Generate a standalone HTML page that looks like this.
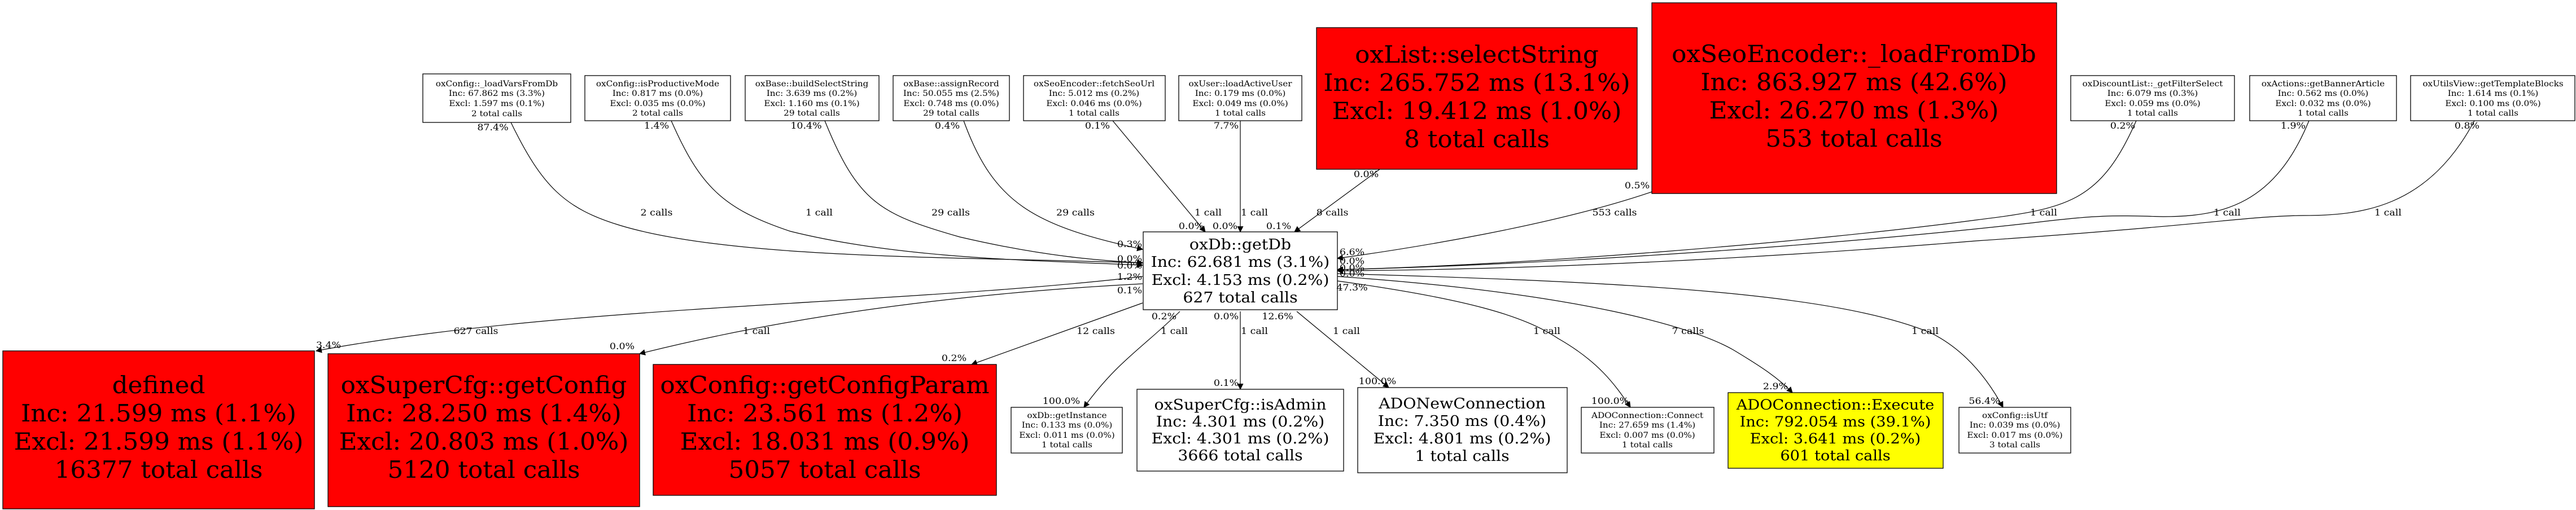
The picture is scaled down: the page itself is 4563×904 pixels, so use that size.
<!DOCTYPE html>
<html><head><meta charset="utf-8"><style>
html,body{margin:0;padding:0;background:#fff}
svg{display:block}
text{font-family:"DejaVu Serif","Liberation Serif",serif;fill:#000;transform-box:fill-box;transform-origin:center;transform:scaleX(1.09)}
.s{font-size:14px}
.m{font-size:26px}
.b{font-size:42px;transform:scaleX(1.04)}
.e{font-size:16px}
path{fill:none;stroke:#000;stroke-width:1.2}
rect{stroke:#000;stroke-width:1.3}
</style></head><body>
<svg width="4563" height="904" viewBox="0 0 4563 904" xmlns="http://www.w3.org/2000/svg">
<defs><marker id="a" viewBox="0 0 10 10" refX="9" refY="5" markerWidth="11" markerHeight="11" markerUnits="userSpaceOnUse" orient="auto"><path d="M0,0 L10,5 L0,10 z" style="fill:#000;stroke:none"/></marker></defs>

<path marker-end="url(#a)" d="M905,217 C960,330 1000,370 1100,400 C1300,460 1700,455 2024,466"/>
<path marker-end="url(#a)" d="M1189,214 C1240,330 1280,370 1400,410 C1600,460 1850,462 2024,470"/>
<path marker-end="url(#a)" d="M1461,214 C1520,360 1560,380 1700,420 C1850,455 1950,462 2024,466"/>
<path marker-end="url(#a)" d="M1707,214 C1760,360 1830,400 2024,442"/>
<path marker-end="url(#a)" d="M1971,214 L2135,411"/>
<path marker-end="url(#a)" d="M2197,214 L2197,411"/>
<path marker-end="url(#a)" d="M2444,300 L2293,411"/>
<path marker-end="url(#a)" d="M2926,340 C2750,400 2500,440 2369,458"/>
<path marker-end="url(#a)" d="M3784,214 C3720,360 3660,370 3500,390 C3200,430 2700,470 2369,478"/>
<path marker-end="url(#a)" d="M4090,214 C4030,360 3940,384 3832,384 C3750,382 3720,380 3600,395 C3200,440 2700,470 2369,478"/>
<path marker-end="url(#a)" d="M4383,214 C4300,370 4180,382 4080,382 C3980,383 3900,400 3500,427 C3100,460 2700,478 2369,480"/>

<path marker-end="url(#a)" d="M2024,490 C1600,540 1000,540 560,622"/>
<path marker-end="url(#a)" d="M2024,503 C1700,520 1400,560 1133,627"/>
<path marker-end="url(#a)" d="M2024,537 L1721,646"/>
<path marker-end="url(#a)" d="M2090,552 C2020,620 1980,640 1920,722"/>
<path marker-end="url(#a)" d="M2197,552 L2197,690"/>
<path marker-end="url(#a)" d="M2297,552 L2460,687"/>
<path marker-end="url(#a)" d="M2369,498 C2600,530 2700,560 2760,600 C2830,640 2860,680 2888,722"/>
<path marker-end="url(#a)" d="M2369,490 C2800,520 3000,580 3070,620 C3120,650 3150,670 3175,696"/>
<path marker-end="url(#a)" d="M2369,485 C2900,500 3250,520 3420,590 C3480,620 3520,670 3548,722"/>

<rect x="749" y="131" width="262" height="86" fill="#fff"/>
<text class="s" text-anchor="middle"><tspan x="880" y="153">oxConfig::_loadVarsFromDb</tspan><tspan x="880" y="170">Inc: 67.862 ms (3.3%)</tspan><tspan x="880" y="188">Excl: 1.597 ms (0.1%)</tspan><tspan x="880" y="206">2 total calls</tspan></text>
<rect x="1036" y="134" width="258" height="80" fill="#fff"/>
<text class="s" text-anchor="middle"><tspan x="1165" y="153">oxConfig::isProductiveMode</tspan><tspan x="1165" y="170">Inc: 0.817 ms (0.0%)</tspan><tspan x="1165" y="188">Excl: 0.035 ms (0.0%)</tspan><tspan x="1165" y="205">2 total calls</tspan></text>
<rect x="1320" y="134" width="237" height="80" fill="#fff"/>
<text class="s" text-anchor="middle"><tspan x="1438" y="153">oxBase::buildSelectString</tspan><tspan x="1438" y="170">Inc: 3.639 ms (0.2%)</tspan><tspan x="1438" y="188">Excl: 1.160 ms (0.1%)</tspan><tspan x="1438" y="205">29 total calls</tspan></text>
<rect x="1582" y="134" width="206" height="80" fill="#fff"/>
<text class="s" text-anchor="middle"><tspan x="1685" y="153">oxBase::assignRecord</tspan><tspan x="1685" y="170">Inc: 50.055 ms (2.5%)</tspan><tspan x="1685" y="188">Excl: 0.748 ms (0.0%)</tspan><tspan x="1685" y="205">29 total calls</tspan></text>
<rect x="1813" y="134" width="251" height="80" fill="#fff"/>
<text class="s" text-anchor="middle"><tspan x="1938" y="153">oxSeoEncoder::fetchSeoUrl</tspan><tspan x="1938" y="170">Inc: 5.012 ms (0.2%)</tspan><tspan x="1938" y="188">Excl: 0.046 ms (0.0%)</tspan><tspan x="1938" y="205">1 total calls</tspan></text>
<rect x="2088" y="134" width="218" height="80" fill="#fff"/>
<text class="s" text-anchor="middle"><tspan x="2197" y="153">oxUser::loadActiveUser</tspan><tspan x="2197" y="170">Inc: 0.179 ms (0.0%)</tspan><tspan x="2197" y="188">Excl: 0.049 ms (0.0%)</tspan><tspan x="2197" y="205">1 total calls</tspan></text>
<rect x="3668" y="134" width="290" height="80" fill="#fff"/>
<text class="s" text-anchor="middle"><tspan x="3813" y="153">oxDiscountList::_getFilterSelect</tspan><tspan x="3813" y="170">Inc: 6.079 ms (0.3%)</tspan><tspan x="3813" y="188">Excl: 0.059 ms (0.0%)</tspan><tspan x="3813" y="205">1 total calls</tspan></text>
<rect x="3985" y="134" width="260" height="80" fill="#fff"/>
<text class="s" text-anchor="middle"><tspan x="4115" y="153">oxActions::getBannerArticle</tspan><tspan x="4115" y="170">Inc: 0.562 ms (0.0%)</tspan><tspan x="4115" y="188">Excl: 0.032 ms (0.0%)</tspan><tspan x="4115" y="205">1 total calls</tspan></text>
<rect x="4270" y="134" width="291" height="80" fill="#fff"/>
<text class="s" text-anchor="middle"><tspan x="4416" y="153">oxUtilsView::getTemplateBlocks</tspan><tspan x="4416" y="170">Inc: 1.614 ms (0.1%)</tspan><tspan x="4416" y="188">Excl: 0.100 ms (0.0%)</tspan><tspan x="4416" y="205">1 total calls</tspan></text>

<rect x="2332" y="49" width="568" height="251" fill="#ff0000"/>
<text class="b" text-anchor="middle"><tspan x="2616" y="111">oxList::selectString</tspan><tspan x="2616" y="161">Inc: 265.752 ms (13.1%)</tspan><tspan x="2616" y="211">Excl: 19.412 ms (1.0%)</tspan><tspan x="2616" y="261">8 total calls</tspan></text>
<rect x="2926" y="5" width="717" height="338" fill="#ff0000"/>
<text class="b" text-anchor="middle"><tspan x="3284" y="110">oxSeoEncoder::_loadFromDb</tspan><tspan x="3284" y="160">Inc: 863.927 ms (42.6%)</tspan><tspan x="3284" y="210">Excl: 26.270 ms (1.3%)</tspan><tspan x="3284" y="260">553 total calls</tspan></text>

<rect x="2025" y="411" width="344" height="138" fill="#fff"/>
<text class="m" text-anchor="middle"><tspan x="2197" y="442">oxDb::getDb</tspan><tspan x="2197" y="473">Inc: 62.681 ms (3.1%)</tspan><tspan x="2197" y="505">Excl: 4.153 ms (0.2%)</tspan><tspan x="2197" y="536">627 total calls</tspan></text>

<rect x="5" y="622" width="552" height="280" fill="#ff0000"/>
<text class="b" text-anchor="middle"><tspan x="281" y="697">defined</tspan><tspan x="281" y="747">Inc: 21.599 ms (1.1%)</tspan><tspan x="281" y="797">Excl: 21.599 ms (1.1%)</tspan><tspan x="281" y="847">16377 total calls</tspan></text>
<rect x="581" y="627" width="552" height="271" fill="#ff0000"/>
<text class="b" text-anchor="middle"><tspan x="857" y="697">oxSuperCfg::getConfig</tspan><tspan x="857" y="747">Inc: 28.250 ms (1.4%)</tspan><tspan x="857" y="797">Excl: 20.803 ms (1.0%)</tspan><tspan x="857" y="847">5120 total calls</tspan></text>
<rect x="1157" y="646" width="608" height="232" fill="#ff0000"/>
<text class="b" text-anchor="middle"><tspan x="1461" y="697">oxConfig::getConfigParam</tspan><tspan x="1461" y="747">Inc: 23.561 ms (1.2%)</tspan><tspan x="1461" y="797">Excl: 18.031 ms (0.9%)</tspan><tspan x="1461" y="847">5057 total calls</tspan></text>
<rect x="1791" y="722" width="197" height="81" fill="#fff"/>
<text class="s" text-anchor="middle"><tspan x="1890" y="741">oxDb::getInstance</tspan><tspan x="1890" y="758">Inc: 0.133 ms (0.0%)</tspan><tspan x="1890" y="776">Excl: 0.011 ms (0.0%)</tspan><tspan x="1890" y="793">1 total calls</tspan></text>
<rect x="2014" y="690" width="366" height="145" fill="#fff"/>
<text class="m" text-anchor="middle"><tspan x="2197" y="726">oxSuperCfg::isAdmin</tspan><tspan x="2197" y="756">Inc: 4.301 ms (0.2%)</tspan><tspan x="2197" y="786">Excl: 4.301 ms (0.2%)</tspan><tspan x="2197" y="816">3666 total calls</tspan></text>
<rect x="2405" y="687" width="371" height="151" fill="#fff"/>
<text class="m" text-anchor="middle"><tspan x="2590" y="724">ADONewConnection</tspan><tspan x="2590" y="755">Inc: 7.350 ms (0.4%)</tspan><tspan x="2590" y="786">Excl: 4.801 ms (0.2%)</tspan><tspan x="2590" y="817">1 total calls</tspan></text>
<rect x="2801" y="722" width="235" height="81" fill="#fff"/>
<text class="s" text-anchor="middle"><tspan x="2918" y="741">ADOConnection::Connect</tspan><tspan x="2918" y="758">Inc: 27.659 ms (1.4%)</tspan><tspan x="2918" y="776">Excl: 0.007 ms (0.0%)</tspan><tspan x="2918" y="793">1 total calls</tspan></text>
<rect x="3061" y="696" width="381" height="134" fill="#ffff00"/>
<text class="m" text-anchor="middle" style="font-size:25px"><tspan x="3251" y="726">ADOConnection::Execute</tspan><tspan x="3251" y="756">Inc: 792.054 ms (39.1%)</tspan><tspan x="3251" y="786">Excl: 3.641 ms (0.2%)</tspan><tspan x="3251" y="816">601 total calls</tspan></text>
<rect x="3470" y="722" width="198" height="81" fill="#fff"/>
<text class="s" text-anchor="middle"><tspan x="3569" y="741">oxConfig::isUtf</tspan><tspan x="3569" y="758">Inc: 0.039 ms (0.0%)</tspan><tspan x="3569" y="776">Excl: 0.017 ms (0.0%)</tspan><tspan x="3569" y="793">3 total calls</tspan></text>

<g class="e" text-anchor="middle">
<text x="873" y="231">87.4%</text><text x="1163" y="228">1.4%</text><text x="1428" y="228">10.4%</text><text x="1678" y="228">0.4%</text><text x="1944" y="228">0.1%</text><text x="2172" y="228">7.7%</text>
<text x="1163" y="382">2 calls</text><text x="1451" y="382">1 call</text><text x="1684" y="382">29 calls</text><text x="1905" y="382">29 calls</text><text x="2140" y="382">1 call</text><text x="2222" y="382">1 call</text><text x="2360" y="382">8 calls</text><text x="2860" y="382">553 calls</text>
<text x="3620" y="382">1 call</text><text x="3945" y="382">1 call</text><text x="4230" y="382">1 call</text>
<text x="3760" y="228">0.2%</text><text x="4062" y="228">1.9%</text><text x="4370" y="228">0.8%</text>
<text x="2420" y="314">0.0%</text><text x="2900" y="334">0.5%</text>
<text x="2110" y="406">0.0%</text><text x="2170" y="406">0.0%</text><text x="2265" y="406">0.1%</text>
<text x="2001" y="438">0.3%</text><text x="2001" y="464">0.0%</text><text x="2001" y="476">0.0%</text><text x="2001" y="496">1.2%</text><text x="2001" y="520">0.1%</text>
<text x="2395" y="452">6.6%</text><text x="2395" y="468">0.0%</text><text x="2395" y="480">0.0%</text><text x="2395" y="490">0.0%</text><text x="2395" y="515">47.3%</text>
<text x="843" y="592">627 calls</text><text x="1340" y="592">1 call</text><text x="1941" y="592">12 calls</text><text x="2080" y="592">1 call</text><text x="2222" y="592">1 call</text><text x="2385" y="592">1 call</text><text x="2740" y="592">1 call</text><text x="2990" y="592">7 calls</text><text x="3410" y="592">1 call</text>
<text x="2062" y="566">0.2%</text><text x="2172" y="566">0.0%</text><text x="2263" y="566">12.6%</text>
<text x="582" y="617">3.4%</text><text x="1102" y="619">0.0%</text><text x="1690" y="640">0.2%</text><text x="1880" y="716">100.0%</text><text x="2172" y="684">0.1%</text><text x="2440" y="681">100.0%</text><text x="2852" y="716">100.0%</text><text x="3145" y="690">2.9%</text><text x="3515" y="716">56.4%</text>
</g>
</svg>
</body></html>
